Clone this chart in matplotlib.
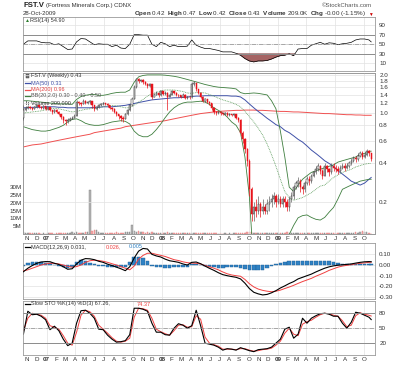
import numpy as np
import pandas as pd
import matplotlib
matplotlib.use("Agg")
import matplotlib.pyplot as plt
import matplotlib.dates as mdates
from matplotlib.lines import Line2D
from matplotlib.patches import Rectangle
from matplotlib.ticker import FixedLocator, NullLocator, FuncFormatter

plt.rcParams['font.family'] = ['Liberation Sans', 'DejaVu Sans']
plt.rcParams['mathtext.fontset'] = 'custom'
plt.rcParams['mathtext.rm'] = 'Liberation Sans'
plt.rcParams['mathtext.bf'] = 'Liberation Sans:bold'

# weekly bars FST.V, Oct 2006 - Oct 2009
dates = pd.date_range("2006-10-20", periods=158, freq="W-FRI")
first_open = 0.92

close = [1.05, 1.10, 1.12, 1.10, 1.08, 1.12, 1.15, 1.12, 1.10, 1.13,
         1.08, 1.12, 1.05, 1.02, 1.06, 1.02, 0.98, 0.93, 0.88, 0.86,
         0.88, 0.90, 0.92, 0.95, 1.22, 1.20, 1.18, 1.25, 1.20, 1.22,
         1.24, 1.15, 1.08, 1.12, 1.15, 1.18, 1.20, 1.18, 1.15, 1.10,
         1.08, 1.02, 0.98, 0.95, 0.92, 0.90, 0.98, 1.05, 1.15, 1.30,
         1.60, 1.85, 1.80, 1.82, 1.75, 1.70, 1.62, 1.68, 1.35, 1.40,
         1.45, 1.38, 1.48, 1.42, 1.45, 1.35, 1.40, 1.48, 1.45, 1.40,
         1.38, 1.35, 1.40, 1.32, 1.35, 1.33, 1.70, 1.72, 1.55, 1.45,
         1.35, 1.25, 1.28, 1.22, 1.20, 1.10, 1.02, 1.00, 1.02, 1.00,
         0.98, 1.00, 0.97, 0.98, 0.96, 0.98, 0.92, 0.88, 0.70, 0.62,
         0.52, 0.42, 0.25, 0.16, 0.18, 0.17, 0.19, 0.17, 0.18, 0.17,
         0.19, 0.20, 0.21, 0.22, 0.20, 0.21, 0.19, 0.21, 0.20, 0.18,
         0.21, 0.22, 0.26, 0.28, 0.29, 0.26, 0.25, 0.28, 0.30, 0.29,
         0.32, 0.34, 0.36, 0.38, 0.35, 0.32, 0.38, 0.36, 0.34, 0.38,
         0.37, 0.36, 0.35, 0.37, 0.38, 0.37, 0.38, 0.40, 0.42, 0.44,
         0.43, 0.46, 0.48, 0.45, 0.47, 0.50, 0.48, 0.43]
high = [1.15, 1.13, 1.15, 1.14, 1.12, 1.14, 1.17, 1.16, 1.13, 1.15,
        1.14, 1.14, 1.12, 1.06, 1.08, 1.07, 1.03, 0.99, 0.94, 0.90,
        0.91, 0.93, 0.95, 0.98, 1.26, 1.25, 1.22, 1.28, 1.26, 1.25,
        1.27, 1.25, 1.16, 1.14, 1.17, 1.20, 1.22, 1.21, 1.19, 1.16,
        1.11, 1.09, 1.03, 0.99, 0.96, 0.94, 1.00, 1.07, 1.18, 1.35,
        1.65, 1.90, 1.88, 1.86, 1.84, 1.78, 1.72, 1.72, 1.68, 1.45,
        1.50, 1.46, 1.52, 1.50, 1.48, 1.46, 1.44, 1.52, 1.50, 1.47,
        1.42, 1.40, 1.43, 1.41, 1.37, 1.36, 1.76, 1.78, 1.72, 1.56,
        1.46, 1.36, 1.31, 1.29, 1.24, 1.21, 1.11, 1.04, 1.04, 1.03,
        1.02, 1.02, 1.01, 1.00, 0.99, 1.00, 0.99, 0.93, 0.89, 0.72,
        0.63, 0.53, 0.43, 0.26, 0.20, 0.21, 0.22, 0.20, 0.21, 0.19,
        0.21, 0.22, 0.23, 0.24, 0.23, 0.23, 0.22, 0.22, 0.22, 0.21,
        0.22, 0.24, 0.27, 0.29, 0.31, 0.30, 0.27, 0.29, 0.32, 0.32,
        0.33, 0.35, 0.38, 0.40, 0.39, 0.36, 0.40, 0.39, 0.37, 0.40,
        0.40, 0.39, 0.38, 0.39, 0.40, 0.40, 0.40, 0.42, 0.44, 0.46,
        0.46, 0.48, 0.50, 0.50, 0.49, 0.52, 0.51, 0.47]
low = [0.88, 1.03, 1.08, 1.08, 1.06, 1.07, 1.10, 1.10, 1.08, 1.08,
       1.06, 1.06, 1.03, 0.99, 1.00, 1.00, 0.96, 0.90, 0.84, 0.80,
       0.84, 0.86, 0.89, 0.92, 0.94, 1.16, 1.14, 1.17, 1.17, 1.18,
       1.18, 1.10, 1.04, 1.06, 1.10, 1.13, 1.16, 1.15, 1.12, 1.08,
       1.04, 1.00, 0.95, 0.90, 0.87, 0.85, 0.89, 0.97, 1.04, 1.14,
       1.28, 1.58, 1.74, 1.76, 1.70, 1.66, 1.58, 1.60, 1.30, 1.33,
       1.38, 1.35, 1.37, 1.38, 1.40, 1.05, 1.33, 1.38, 1.42, 1.37,
       1.34, 1.32, 1.33, 1.30, 1.30, 1.30, 1.32, 1.64, 1.50, 1.42,
       1.32, 1.22, 1.22, 1.19, 1.16, 1.06, 0.99, 0.97, 0.98, 0.97,
       0.96, 0.96, 0.95, 0.95, 0.94, 0.94, 0.90, 0.85, 0.66, 0.58,
       0.48, 0.38, 0.22, 0.14, 0.14, 0.15, 0.16, 0.15, 0.16, 0.16,
       0.16, 0.17, 0.18, 0.19, 0.18, 0.19, 0.18, 0.18, 0.18, 0.17,
       0.17, 0.20, 0.21, 0.25, 0.26, 0.24, 0.23, 0.24, 0.27, 0.27,
       0.28, 0.31, 0.33, 0.35, 0.33, 0.30, 0.32, 0.34, 0.32, 0.33,
       0.35, 0.34, 0.33, 0.34, 0.36, 0.35, 0.36, 0.37, 0.39, 0.41,
       0.41, 0.42, 0.45, 0.43, 0.44, 0.46, 0.46, 0.42]
volume_m = [1.5, 0.8, 0.5, 0.4, 0.5, 0.6, 0.5, 0.4, 0.3, 0.4,
            0.3, 0.4, 0.5, 0.4, 0.3, 0.5, 0.6, 0.4, 0.5, 0.4,
            0.6, 0.8, 1.0, 0.8, 1.2, 0.9, 0.7, 0.8, 1.0, 1.2,
            28.5, 1.8, 2.5, 2.8, 1.5, 0.9, 0.7, 0.6, 0.8, 0.6,
            0.7, 0.9, 1.2, 0.8, 0.6, 0.9, 1.1, 1.5, 1.0, 5.5,
            2.2, 1.5, 1.8, 1.0, 1.2, 0.9, 1.0, 0.8, 1.5, 0.9,
            0.6, 0.5, 0.7, 0.6, 0.8, 1.3, 0.5, 0.6, 0.5, 0.4,
            0.5, 0.4, 0.6, 0.4, 0.5, 0.4, 0.9, 0.7, 0.6, 0.5,
            0.5, 0.4, 0.4, 0.6, 0.5, 0.4, 0.5, 0.4, 0.3, 0.4,
            0.3, 0.4, 0.3, 0.4, 0.3, 0.4, 0.5, 0.6, 0.8, 0.7,
            0.9, 1.0, 1.2, 1.5, 0.9, 0.7, 0.8, 0.6, 0.9, 0.7,
            0.6, 0.5, 0.7, 0.5, 0.6, 0.5, 0.4, 0.5, 0.6, 1.0,
            0.5, 0.6, 0.8, 0.7, 0.6, 0.5, 0.4, 0.5, 0.6, 0.5,
            0.6, 0.7, 0.8, 0.9, 0.7, 0.6, 0.8, 0.5, 0.6, 0.7,
            0.6, 0.5, 0.6, 0.5, 0.6, 0.7, 0.6, 0.8, 0.9, 0.8,
            1.0, 0.9, 1.2, 1.8, 1.4, 1.2, 0.9, 0.209]

# overlays and indicators, read every second week (+ the last week)
ma50 = [1.10, 1.10, 1.11, 1.11, 1.11, 1.12, 1.12, 1.12, 1.11, 1.11,
        1.10, 1.10, 1.10, 1.10, 1.10, 1.10, 1.11, 1.11, 1.12, 1.12,
        1.12, 1.13, 1.14, 1.15, 1.17, 1.19, 1.21, 1.23, 1.25, 1.27,
        1.28, 1.29, 1.30, 1.31, 1.32, 1.32, 1.33, 1.34, 1.35, 1.36,
        1.36, 1.37, 1.37, 1.37, 1.37, 1.37, 1.37, 1.36, 1.36, 1.34,
        1.27, 1.18, 1.10, 1.03, 0.97, 0.91, 0.86, 0.81, 0.78, 0.73,
        0.70, 0.66, 0.62, 0.59, 0.55, 0.51, 0.48, 0.45, 0.42, 0.40,
        0.38, 0.35, 0.33, 0.31, 0.29, 0.28, 0.27, 0.28, 0.30, 0.31]
ma200 = [0.54, 0.55, 0.56, 0.565, 0.57, 0.58, 0.59, 0.60, 0.61, 0.62,
         0.63, 0.64, 0.65, 0.66, 0.67, 0.68, 0.70, 0.71, 0.72, 0.73,
         0.74, 0.75, 0.76, 0.78, 0.79, 0.80, 0.81, 0.82, 0.83, 0.84,
         0.85, 0.86, 0.87, 0.885, 0.90, 0.915, 0.93, 0.945, 0.96, 0.975,
         0.99, 1.0, 1.01, 1.02, 1.03, 1.035, 1.04, 1.045, 1.05, 1.05,
         1.055, 1.055, 1.055, 1.05, 1.05, 1.045, 1.04, 1.035, 1.03, 1.03,
         1.025, 1.02, 1.02, 1.015, 1.01, 1.005, 1.0, 0.995, 0.99, 0.99,
         0.985, 0.98, 0.975, 0.97, 0.97, 0.965, 0.965, 0.96, 0.96, 0.96]
bb_up = [1.25, 1.25, 1.24, 1.23, 1.22, 1.21, 1.20, 1.19, 1.18, 1.18,
         1.18, 1.17, 1.28, 1.35, 1.38, 1.40, 1.40, 1.38, 1.38, 1.40,
         1.43, 1.45, 1.46, 1.46, 1.52, 1.75, 1.93, 1.98, 2.0, 2.0,
         2.0, 2.0, 1.99, 1.97, 1.95, 1.92, 1.88, 1.84, 1.80, 1.76,
         1.72, 1.68, 1.65, 1.62, 1.60, 1.59, 1.58, 1.57, 1.55, 1.45,
         1.42, 1.43, 1.44, 1.43, 1.41, 1.39, 1.25, 1.08, 0.72, 0.45,
         0.26, 0.24, 0.27, 0.30, 0.32, 0.34, 0.35, 0.36, 0.37, 0.38,
         0.39, 0.41, 0.42, 0.43, 0.44, 0.45, 0.47, 0.48, 0.50, 0.50]
bb_mid = [1.00, 1.01, 1.02, 1.03, 1.04, 1.06, 1.08, 1.09, 1.08, 1.06,
          1.04, 1.02, 1.03, 1.05, 1.07, 1.08, 1.09, 1.10, 1.12, 1.14,
          1.15, 1.14, 1.12, 1.10, 1.10, 1.15, 1.22, 1.28, 1.36, 1.42,
          1.45, 1.50, 1.52, 1.52, 1.52, 1.50, 1.48, 1.44, 1.43, 1.45,
          1.45, 1.44, 1.40, 1.36, 1.31, 1.27, 1.24, 1.21, 1.17, 1.12,
          1.03, 0.94, 0.85, 0.76, 0.67, 0.57, 0.47, 0.38, 0.30, 0.24,
          0.215, 0.205, 0.21, 0.215, 0.225, 0.235, 0.25, 0.265, 0.27, 0.29,
          0.31, 0.325, 0.34, 0.35, 0.36, 0.375, 0.385, 0.395, 0.40, 0.40]
bb_lo = [0.78, 0.76, 0.74, 0.73, 0.72, 0.72, 0.73, 0.75, 0.77, 0.80,
         0.85, 0.89, 0.90, 0.87, 0.83, 0.81, 0.80, 0.80, 0.81, 0.83,
         0.85, 0.86, 0.87, 0.86, 0.82, 0.72, 0.67, 0.65, 0.65, 0.68,
         0.74, 0.82, 0.92, 1.02, 1.10, 1.16, 1.20, 1.22, 1.22, 1.23,
         1.24, 1.22, 1.17, 1.10, 1.05, 1.00, 0.93, 0.85, 0.80, 0.70,
         0.45, 0.22, 0.06, np.nan, np.nan, np.nan, np.nan, np.nan, np.nan, 0.08,
         0.11, 0.13, 0.149, 0.155, 0.157, 0.15, 0.145, 0.143, 0.15, 0.165,
         0.18, 0.21, 0.25, 0.26, 0.27, 0.28, 0.29, 0.295, 0.30, 0.30]
rsi = [50, 57, 57, 57, 54, 53, 53, 49, 51, 45,
       39, 40, 55, 62, 61, 55, 49, 51, 50, 50,
       45, 48, 42, 41, 50, 70, 70, 69, 69, 50,
       45, 54, 51, 45, 48, 45, 45, 46, 59, 48,
       44, 41, 41, 39, 37, 34, 34, 34, 31, 27,
       20, 15, 13, 15, 15, 16, 19, 23, 26, 27,
       30, 26, 40, 41, 41, 48, 51, 54, 50, 53,
       52, 49, 51, 52, 54, 59, 61, 61, 59, 54.9]
macd = [-0.063, -0.03, -0.005, 0.016, 0.028, 0.032, 0.031, 0.016, 0.005, -0.016,
        -0.04, -0.035, 0.01, 0.045, 0.06, 0.058, 0.05, 0.035, 0.025, 0.008,
        -0.005, -0.02, -0.035, -0.053, -0.016, 0.065, 0.13, 0.155, 0.15, 0.10,
        0.085, 0.075, 0.055, 0.04, 0.033, 0.025, 0.01, 0.0, 0.025, 0.028,
        0.012, -0.01, -0.031, -0.05, -0.072, -0.09, -0.1, -0.108, -0.115, -0.13,
        -0.17, -0.22, -0.255, -0.27, -0.28, -0.275, -0.26, -0.24, -0.215, -0.195,
        -0.173, -0.155, -0.13, -0.115, -0.1, -0.085, -0.065, -0.047, -0.03, -0.017,
        -0.008, -0.002, 0.002, 0.006, 0.01, 0.018, 0.025, 0.03, 0.032, 0.031]
signal = [-0.055, -0.045, -0.03, -0.015, 0.0, 0.01, 0.016, 0.016, 0.01, 0.0,
          -0.012, -0.02, -0.015, 0.0, 0.025, 0.04, 0.045, 0.042, 0.035, 0.025,
          0.012, 0.0, -0.015, -0.03, -0.045, -0.01, 0.055, 0.09, 0.11, 0.11,
          0.1, 0.09, 0.08, 0.065, 0.05, 0.042, 0.03, 0.022, 0.018, 0.016,
          0.01, -0.005, -0.016, -0.03, -0.045, -0.065, -0.082, -0.093, -0.1, -0.105,
          -0.135, -0.175, -0.205, -0.225, -0.237, -0.245, -0.25, -0.245, -0.235, -0.22,
          -0.206, -0.19, -0.172, -0.155, -0.14, -0.125, -0.105, -0.088, -0.07, -0.05,
          -0.035, -0.02, -0.01, -0.003, 0.003, 0.01, 0.016, 0.02, 0.025, 0.026]
sto_k = [38, 84, 77, 78, 74, 67, 47, 54, 45, 28,
         15, 20, 60, 85, 86, 80, 70, 48, 47, 36,
         28, 22, 23, 25, 37, 90, 90, 88, 84, 60,
         42, 42, 37, 36, 50, 59, 56, 50, 55, 86,
         55, 20, 18, 16, 12, 6, 9, 8, 6, 11,
         8, 5, 3, 7, 8, 9, 12, 20, 28, 48,
         52, 30, 38, 70, 60, 70, 75, 79, 80, 78,
         74, 74, 60, 50, 62, 82, 80, 76, 72, 67.26]
sto_d = [45, 70, 80, 78, 76, 70, 55, 52, 48, 35,
         20, 16, 42, 76, 86, 83, 74, 56, 48, 40,
         31, 24, 22, 24, 30, 72, 90, 89, 86, 70,
         48, 43, 39, 36, 45, 56, 57, 52, 53, 75,
         68, 32, 20, 17, 14, 8, 8, 8, 7, 9,
         9, 6, 4, 5, 7, 8, 10, 16, 24, 40,
         50, 38, 35, 58, 63, 66, 72, 77, 80, 79,
         76, 74, 65, 53, 56, 75, 81, 78, 76, 74.37]

W, H = 400, 365
TXT = "#333333"
GRID = "#e2e2e2"
BORDER = "#9a9a9a"
REFL = "#8c8c8c"
RED = "#e8141c"
FS = 4.5


def main():
    fig = plt.figure(figsize=(W / 100, H / 100), dpi=100, facecolor="white")

    def panel(top, bottom):
        return fig.add_axes([23 / W, 1 - bottom / H, 352 / W, (bottom - top) / H])

    def T(x, y, s, **kw):
        kw.setdefault("fontsize", FS)
        kw.setdefault("color", TXT)
        kw.setdefault("va", "center")
        return fig.text(x / W, 1 - y / H, s, **kw)

    def mark(x0, x1, y, color, lw=0.9):
        fig.add_artist(Line2D([x0 / W, x1 / W], [1 - y / H, 1 - y / H], color=color, lw=lw))

    x = mdates.date2num(dates)
    sub = list(range(0, len(dates), 2)) + [len(dates) - 1]
    xs = x[sub]

    c = np.array(close)
    o = np.r_[first_open, c[:-1]]  # open taken from previous close
    down = c < o

    ax_rsi = panel(17, 71)
    ax_p = panel(73, 234)
    ax_v = ax_p.twinx()
    ax_macd = panel(243, 299)
    ax_sto = panel(301, 355)
    axes = [ax_rsi, ax_p, ax_macd, ax_sto]

    months = pd.date_range("2006-11-01", "2009-10-01", freq="MS")
    mlabels = [f"{d:%y}" if d.month == 1 else "JFMAMJJASOND"[d.month - 1] for d in months]
    quarters = mdates.date2num(pd.date_range("2007-01-01", "2009-10-01", freq="QS"))

    for ax in axes + [ax_v]:
        ax.set_xlim(x[0] - 1.3, x[-1] + 12)
        for s in ax.spines.values():
            s.set_color(BORDER)
            s.set_linewidth(0.6)
    for ax in axes:
        for q in quarters:
            ax.axvline(q, color=GRID, lw=0.5, zorder=0)
        ax.yaxis.tick_right()
        ax.tick_params(axis="y", length=0, labelsize=FS, labelcolor=TXT, pad=3)
        ax.yaxis.grid(True, color=GRID, lw=0.5)
        ax.set_axisbelow(True)
        ax.set_xticks(mdates.date2num(months))
        ax.tick_params(axis="x", length=0, pad=1.5)
        ax.xaxis.set_minor_locator(NullLocator())
    for ax in (ax_p, ax_sto):
        ax.set_xticklabels(mlabels, fontsize=FS, color=TXT)
        for t, d in zip(ax.get_xticklabels(), months):
            if d.month == 1:
                t.set_fontweight("bold")
    for ax in (ax_rsi, ax_macd):
        ax.tick_params(axis="x", labelbottom=False)

    # RSI
    r = np.array(rsi, dtype=float)
    ax_rsi.plot(xs, r, color="black", lw=0.5)
    ax_rsi.fill_between(xs, r, 30, where=r < 30, interpolate=True, color="#a66464", lw=0.4, edgecolor="#7a3c3c")
    ax_rsi.fill_between(xs, r, 70, where=r > 70, interpolate=True, color="#3f8f3f", lw=0)
    ax_rsi.axhline(70, color=REFL, lw=0.7)
    ax_rsi.axhline(30, color=REFL, lw=0.7)
    ax_rsi.axhline(50, color=REFL, lw=0.5, ls="-.")
    ax_rsi.set_ylim(-6, 107)
    ax_rsi.set_yticks([10, 30, 50, 70, 90])

    # price
    ax_p.set_zorder(ax_v.get_zorder() + 1)
    ax_p.patch.set_visible(False)
    ax_p.set_yscale("log")
    ax_p.set_ylim(0.111, 2.07)
    ticks = [0.2, 0.4, 0.6, 0.8, 1.0, 1.2, 1.4, 1.6, 1.8, 2.0]
    ax_p.yaxis.set_major_locator(FixedLocator(ticks))
    ax_p.yaxis.set_minor_locator(NullLocator())
    ax_p.yaxis.set_major_formatter(FuncFormatter(lambda v, p: f"{v:.1f}"))
    ax_p.yaxis.set_minor_formatter(FuncFormatter(lambda v, p: ""))

    ax_p.plot(xs, ma200, color="#f05050", lw=0.7, zorder=2)
    ax_p.plot(xs, ma50, color="#3f51a8", lw=0.7, zorder=2)
    ax_p.plot(xs, bb_up, color="#3e7e3e", lw=0.6, zorder=2)
    ax_p.plot(xs, bb_lo, color="#3e7e3e", lw=0.6, zorder=2)
    ax_p.plot(xs, bb_mid, color="#5c9c5c", lw=0.6, ls=(0, (1, 1)), zorder=2)

    body_lo = np.minimum(o, c)
    body_hi = np.maximum(o, c)
    ax_p.vlines(x, low, high, colors=np.where(down, RED, "#666666"), lw=0.5, zorder=3)
    ax_p.bar(x, body_hi - body_lo, bottom=body_lo, width=4.0,
             color=np.where(down, RED, "white"), edgecolor=np.where(down, RED, "#222222"),
             linewidth=0.35, zorder=4)

    # volume underneath
    ax_v.bar(x, np.array(volume_m) * 1e6, width=4.6,
             color=np.where(down, "#f3a9a9", "#b5b5b5"),
             edgecolor=np.where(down, "#e58080", "#7d7d7d"), linewidth=0.3)
    ax_v.set_ylim(0, 103.4e6)
    ax_v.yaxis.tick_left()
    ax_v.set_yticks([5e6, 10e6, 15e6, 20e6, 25e6, 30e6])
    ax_v.set_yticklabels(["5M", "10M", "15M", "20M", "25M", "30M"])
    ax_v.tick_params(axis="y", length=0, labelsize=FS, labelcolor=TXT, pad=1)
    ax_v.tick_params(axis="x", bottom=False, labelbottom=False)

    # MACD
    m = np.array(macd)
    sg = np.array(signal)
    ax_macd.bar(xs, m - sg, width=11, color="#2f82c4", edgecolor="#1d5f96", linewidth=0.3, zorder=2)
    ax_macd.plot(xs, sg, color="#f04040", lw=0.7, zorder=3)
    ax_macd.plot(xs, m, color="black", lw=0.8, zorder=4)
    ax_macd.set_ylim(-0.318, 0.206)
    ax_macd.set_yticks([0.1, 0.0, -0.1, -0.2, -0.3])
    ax_macd.yaxis.set_major_formatter(FuncFormatter(lambda v, p: f"{v:.2f}" if abs(v) > 1e-9 else "0.00"))

    # slow stochastics
    ax_sto.plot(xs, sto_d, color="#f04040", lw=0.7)
    ax_sto.plot(xs, sto_k, color="black", lw=0.8)
    ax_sto.axhline(80, color=REFL, lw=0.7)
    ax_sto.axhline(20, color=REFL, lw=0.7)
    ax_sto.axhline(50, color=REFL, lw=0.5, ls="-.")
    ax_sto.set_ylim(-3.7, 104.5)
    ax_sto.set_yticks([20, 50, 80])

    # header
    T(23, 5.5, "FST.V", fontsize=5.6, weight="bold", color="#222222")
    T(46.5, 5.5, "(Fortress Minerals Corp.) CDNX", fontsize=4.3)
    T(372, 5.5, "\u00a9StockCharts.com", fontsize=4.3, ha="right", color="#555555")
    T(23, 13.5, "28-Oct-2009", fontsize=4.3)
    T(366, 14, r"$\mathbf{Open}$ 0.42  $\mathbf{High}$ 0.47  $\mathbf{Low}$ 0.42  "
               r"$\mathbf{Close}$ 0.43  $\mathbf{Volume}$ 209.0K  $\mathbf{Chg}$ -0.00 (-1.15%)",
      fontsize=4.5, ha="right")
    T(372.5, 14, "\u25bc", fontsize=3.4, ha="right", color="#cc0000")

    # panel legends
    T(24.5, 20.5, "\u25b2", fontsize=3.6, color="#2f7f2f")
    T(30, 20.5, "RSI(14) 54.90", fontsize=4)

    fig.add_artist(Rectangle((25.5 / W, 1 - 78 / H), 3 / W, 4 / H, facecolor="#777777", edgecolor="#333333", lw=0.3))
    T(31, 76, "FST.V (Weekly) 0.43", fontsize=4)
    mark(24.5, 30, 83, "#3f51a8")
    T(31, 83, "MA(50) 0.31", fontsize=4, color="#3f51a8")
    mark(24.5, 30, 89.5, "#f05050")
    T(31, 89.5, "MA(200) 0.96", fontsize=4, color="#e04040")
    mark(24.5, 30, 96, "#3e7e3e")
    T(31, 96, "BB(20,2.0) 0.30 - 0.40 - 0.50", fontsize=4, color="#555555")
    fig.add_artist(Rectangle((25.5 / W, 1 - 104.5 / H), 1.2 / W, 4 / H, facecolor="#777777", lw=0))
    fig.add_artist(Rectangle((27.5 / W, 1 - 104.5 / H), 1.2 / W, 2.5 / H, facecolor="#777777", lw=0))
    T(31, 102.5, "Volume 209,000", fontsize=4)

    mark(24.5, 30, 247, "black")
    T(31, 247, "MACD(12,26,9) 0.031,", fontsize=4)
    T(106, 247, "0.026,", fontsize=4, color="#f04040")
    T(129, 247, "0.005", fontsize=4, color="#2f82c4")

    mark(24.5, 30, 304, "black")
    T(31, 304, "Slow STO %K(14) %D(3) 67.26,", fontsize=4)
    T(137, 304, "74.37", fontsize=4, color="#f04040")

    fig.savefig("out.png", dpi=100, facecolor="white")


if __name__ == "__main__":
    main()
